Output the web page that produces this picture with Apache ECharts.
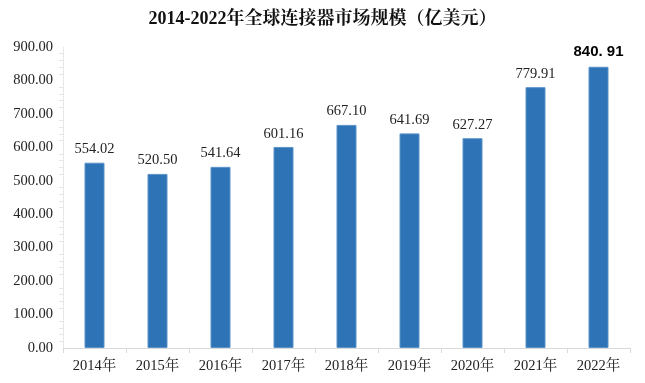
<!DOCTYPE html>
<html><head><meta charset="utf-8">
<script src="https://cdn.jsdelivr.net/npm/echarts@6/dist/echarts.min.js"></script>
<style>html,body{margin:0;padding:0;background:#fff}#c{width:645px;height:383px}</style>
</head><body><div id="c"></div>
<script>
const title = '2014-2022年全球连接器市场规模（亿美元）';
const categories = ['2014年','2015年','2016年','2017年','2018年','2019年','2020年','2021年','2022年'];
const values = [554.02, 520.50, 541.64, 601.16, 667.10, 641.69, 627.27, 779.91, 840.91];
const valueLabels = ['554.02','520.50','541.64','601.16','667.10','641.69','627.27','779.91','840. 91'];
const yTicks = [0, 100, 200, 300, 400, 500, 600, 700, 800, 900];

const serif = '"Liberation Serif","Times New Roman","Noto Serif CJK SC","Noto Sans CJK SC",serif';
const chart = echarts.init(document.getElementById('c'));
chart.setOption({
  animation: false,
  title: {
    text: title, left: 'center', top: 5,
    textStyle: {fontFamily: serif, fontSize: 18, fontWeight: 'bold', color: '#111'}
  },
  grid: {left: 63, right: 15, top: 47, bottom: 35},
  xAxis: {
    type: 'category', data: categories,
    axisLine: {lineStyle: {color: '#d9d9d9'}},
    axisTick: {show: true, length: 5, lineStyle: {color: '#d9d9d9'}},
    axisLabel: {fontFamily: serif, fontSize: 14.5, color: '#222', margin: 11}
  },
  yAxis: {
    type: 'value', min: yTicks[0], max: yTicks[yTicks.length-1], interval: 100,
    axisLine: {show: true, lineStyle: {color: '#e6e6e6'}},
    axisTick: {show: false},
    minorTick: {show: true, splitNumber: 5, length: 4, lineStyle: {color: '#e6e6e6'}},
    splitLine: {show: false},
    axisLabel: {fontFamily: serif, fontSize: 14.5, color: '#222', margin: 10,
      formatter: v => v.toFixed(2)}
  },
  series: [{
    type: 'bar', data: values.map((v, i) => ({
      value: v,
      label: i === values.length - 1 ? {fontFamily: '"Liberation Sans",Arial,sans-serif', fontWeight: 'bold', fontSize: 15, color: '#000', distance: 7} : {}
    })),
    barWidth: 20,
    itemStyle: {color: '#2e73b5', borderColor: '#5b93c8', borderWidth: 1},
    label: {show: true, position: 'top', distance: 6, fontFamily: serif, fontSize: 14.5, color: '#222',
      formatter: p => valueLabels[p.dataIndex]}
  }]
});
</script></body></html>
